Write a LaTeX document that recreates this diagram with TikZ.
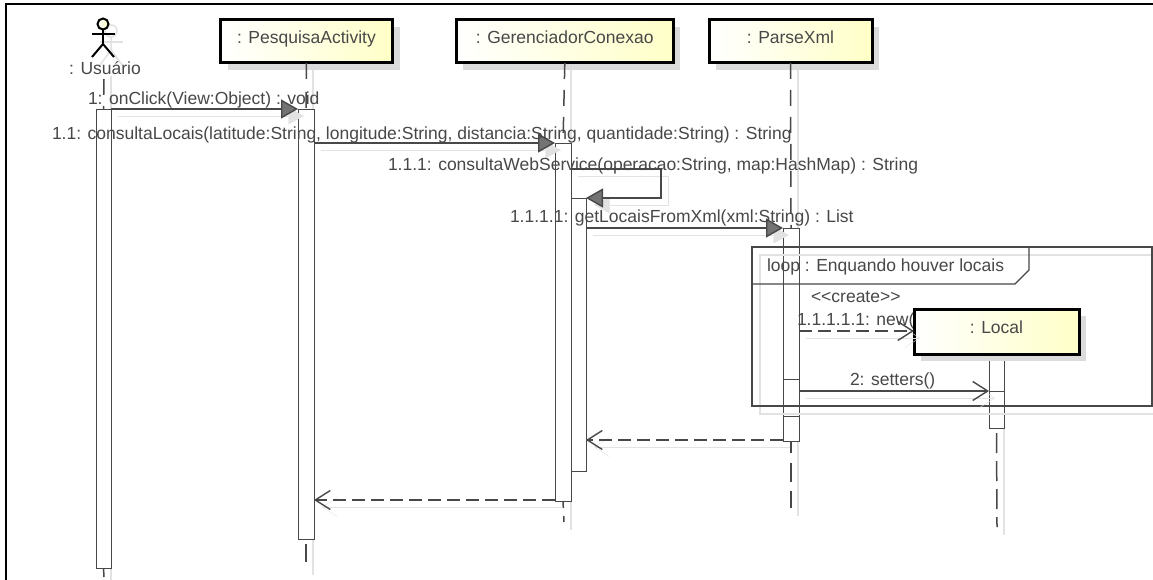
\documentclass[tikz,border=0pt]{standalone}
\usepackage{fontspec}
\setmainfont{Liberation Sans}
\usetikzlibrary{arrows.meta,calc,positioning,shadows}
\definecolor{boxyellow}{HTML}{FFFFC8}
\definecolor{inkgray}{HTML}{484848}
\definecolor{ghostgray}{HTML}{E2E2E2}

\begin{document}
\begin{tikzpicture}[
  x=1pt,y=-1pt,
  every node/.style={font=\fontsize{17.5}{20}\selectfont,text=inkgray,inner sep=0pt,outer sep=0pt},
  lifebox/.style={draw=black,line width=3pt,minimum width=172pt,minimum height=43pt,
                  left color=white,right color=boxyellow,text height=13pt,text depth=9pt,
                  drop shadow={shadow xshift=7pt,shadow yshift=-7pt,fill=black!14,opacity=1}},
  bar/.style={draw=inkgray,line width=0.9pt,fill=white,minimum width=15pt},
  life/.style={draw=inkgray,line width=1.5pt,dash pattern=on 16pt off 11pt},
  ghost/.style={draw=ghostgray,line width=1.5pt},
  call/.style={draw=inkgray,line width=1.4pt,
    preaction={draw=ghostgray,-{Triangle[length=17pt,width=18pt,fill=ghostgray]},
               transform canvas={xshift=7pt,yshift=-7pt}},
    -{Triangle[length=17pt,width=19pt,fill=black!55]}},
  reply/.style={draw=inkgray,line width=1.4pt,
    preaction={draw=ghostgray,-{Straight Barb[length=15pt,width=19pt]},
               transform canvas={xshift=7pt,yshift=-7pt}},
    -{Straight Barb[length=15pt,width=19pt]}},
  dashreply/.style={reply,dash pattern=on 13pt off 6pt},
  msg/.style={anchor=west,yshift=-1.5pt},
]
\useasboundingbox (0,0) rectangle (1153,580);
\fill[white] (0,0) rectangle (1153,580);

%% =====================================================
%%  OUTER EDGE
%% =====================================================
\coordinate (cornerTL) at (6,4);
\coordinate (cornerTR) at (1153,4);
\coordinate (cornerBL) at (6,580);
\draw[black,line width=2.4pt] (cornerTR) -- (cornerTL) -- (cornerBL);

% lifeline shadows lie under everything
\draw[ghost] (111,76) -- (111,580);
\draw[ghost] (313,66) -- (313,575);
\draw[ghost] (571,66) -- (571,530);
\draw[ghost] (798,66) -- (798,516);
\draw[ghost] (1004,429) -- (1004,535);

%% =====================================================
%%  ACTIVATION BARS
%% =====================================================
\node[bar,minimum height=459pt] (barUsuario) at (103.5,338.5) {};
\node[bar,minimum height=430pt,minimum width=16pt] (barPesquisa) at (306,324) {};
\node[bar,minimum height=358pt,minimum width=16pt] (barConexao) at (563,322) {};
\node[bar,minimum height=273pt] (barConexaoIn) at (578.5,334.5) {};
\node[bar,minimum height=213pt,minimum width=16pt] (barParse) at (791,334.5) {};
\node[bar,minimum height=37pt,minimum width=16pt] (barParseIn) at (791,397.5) {};
\node[bar,minimum height=74pt] (barLocal) at (996.5,391) {};
\node[bar,minimum height=37pt] (barLocalIn) at (996.5,409.5) {};

% free ends of the lifelines
\coordinate (endUsuario) at (104,577);
\coordinate (endPesquisa) at (306,562);
\coordinate (endConexao) at (564,522);
\coordinate (endParse) at (791,508);
\coordinate (endLocal) at (997,527);

%% =====================================================
%%  LOOP FRAME
%% =====================================================
\coordinate (loopA) at (752,247);
\coordinate (loopB) at (1152,406);
\draw[ghost] ($(loopA)+(8,8)$) rectangle ($(loopB)+(8,8)$);
\draw[inkgray,line width=1.2pt] (loopA) rectangle (loopB);
\draw[inkgray,line width=1.2pt] (loopA) -- (1029,247) -- (1029,270) -- (1015,284) -- (752,284);
\node[msg] (loopText) at (767,265) {loop : Enquando houver locais};

%% =====================================================
%%  HEADS
%% =====================================================
\node[lifebox] (boxPesquisa) at (306.5,41.5) {: PesquisaActivity};
\node[lifebox,minimum width=217pt] (boxConexao) at (564.8,41.5) {: GerenciadorConexao};
\node[lifebox,minimum width=163pt] (boxParse) at (790.5,41.5) {: ParseXml};

% --- actor ---
\draw[ghost] (111,31) circle (6);
\draw[ghost] (100,42) -- (123,42);
\draw[ghost] (111,37) -- (111,50) -- (100,65);
\draw[ghost] (111,50) -- (122,65);
\node[draw=black,line width=2pt,circle,minimum size=11pt,left color=white,right color=boxyellow] (head) at (103,24) {};
\coordinate (hip) at (103,44);
\draw[black,line width=2pt] (head.south) -- (hip);
\draw[black,line width=2pt] (92,34) -- (115,34);
\draw[black,line width=2pt] (92,57) -- (hip) -- (114,57);
\node (lblUsuario) at (105,68) {: Usuário};

%% =====================================================
%%  LIFELINES
%% =====================================================
\coordinate (startUsuario) at (104,79);
\draw[life] (startUsuario) -- (barUsuario.north);
\draw[life,dash pattern=on 16pt off 13pt] (boxPesquisa.south) -- (barPesquisa.north);
\draw[life] (boxConexao.south) -- (barConexao.north);
\draw[life] (boxParse.south) -- (barParse.north);

\draw[life] (barUsuario.south) -- (endUsuario);
\draw[life,dash pattern=on 18pt off 2pt] ($(barPesquisa.south)+(0,5)$) -- (endPesquisa);
\draw[life,dash pattern=on 7pt off 8pt] (barConexao.south) -- (endConexao);
\draw[life,dash pattern=on 12pt off 10pt on 19pt off 9pt on 17pt off 10pt] (barParse.south) -- (endParse);
\draw[life,dash pattern=on 20pt off 8pt] ($(barLocal.south)+(0,5)$) -- (endLocal);

%% =====================================================
%%  MESSAGES
%% =====================================================
\coordinate (m1) at (0,109);
\coordinate (m11) at (0,143);
\coordinate (m111) at (0,169);
\coordinate (m111b) at (0,198);
\coordinate (m1111) at (0,228);
\coordinate (mNew) at (0,331);
\coordinate (mSet) at (0,391);
\coordinate (mBackA) at (0,440);
\coordinate (mBackB) at (0,500);
\coordinate (selfTurn) at (661,0);

\draw[call] (barUsuario.east|-m1) -- (barPesquisa.west|-m1);
\draw[call] (barPesquisa.east|-m11) -- (barConexao.west|-m11);
\draw[call] (barConexao.east|-m111) -- (selfTurn|-m111) -- (selfTurn|-m111b) -- (barConexaoIn.east|-m111b);
\draw[call] (barConexaoIn.east|-m1111) -- (barParse.west|-m1111);
\draw[reply] (barParse.east|-mSet) -- (barLocal.west|-mSet);
\draw[dashreply] (barParse.west|-mBackA) -- (barConexaoIn.east|-mBackA);
\draw[dashreply] (barConexao.west|-mBackB) -- (barPesquisa.east|-mBackB);

% --- labels ---
\node[msg] (txtClick) at (88,98) {1: onClick(View:Object) : void};
\node[msg] (txtLocais) at (52,133) {1.1: consultaLocais(latitude:String, longitude:String, distancia:String, quantidade:String) : String};
\node[msg] (txtWeb) at (388,164) {1.1.1: consultaWebService(operacao:String, map:HashMap) : String};
\node[msg] (txtXml) at (510,216) {1.1.1.1: getLocaisFromXml(xml:String) : List};
\node[msg] (txtCreate) at (811,295) {<{}<create>{}>};
\node[msg] (txtNew) at (797,319) {1.1.1.1.1: new()};
\node[msg] (txtSet) at (850,379) {2: setters()};

% Local sits over the end of its label
\node[lifebox,minimum width=165pt,minimum height=45pt] (boxLocal) at (996.5,331.5) {: Local};
\draw[dashreply] (barParse.east|-mNew) -- (boxLocal.west|-mNew);

\end{tikzpicture}
\end{document}
